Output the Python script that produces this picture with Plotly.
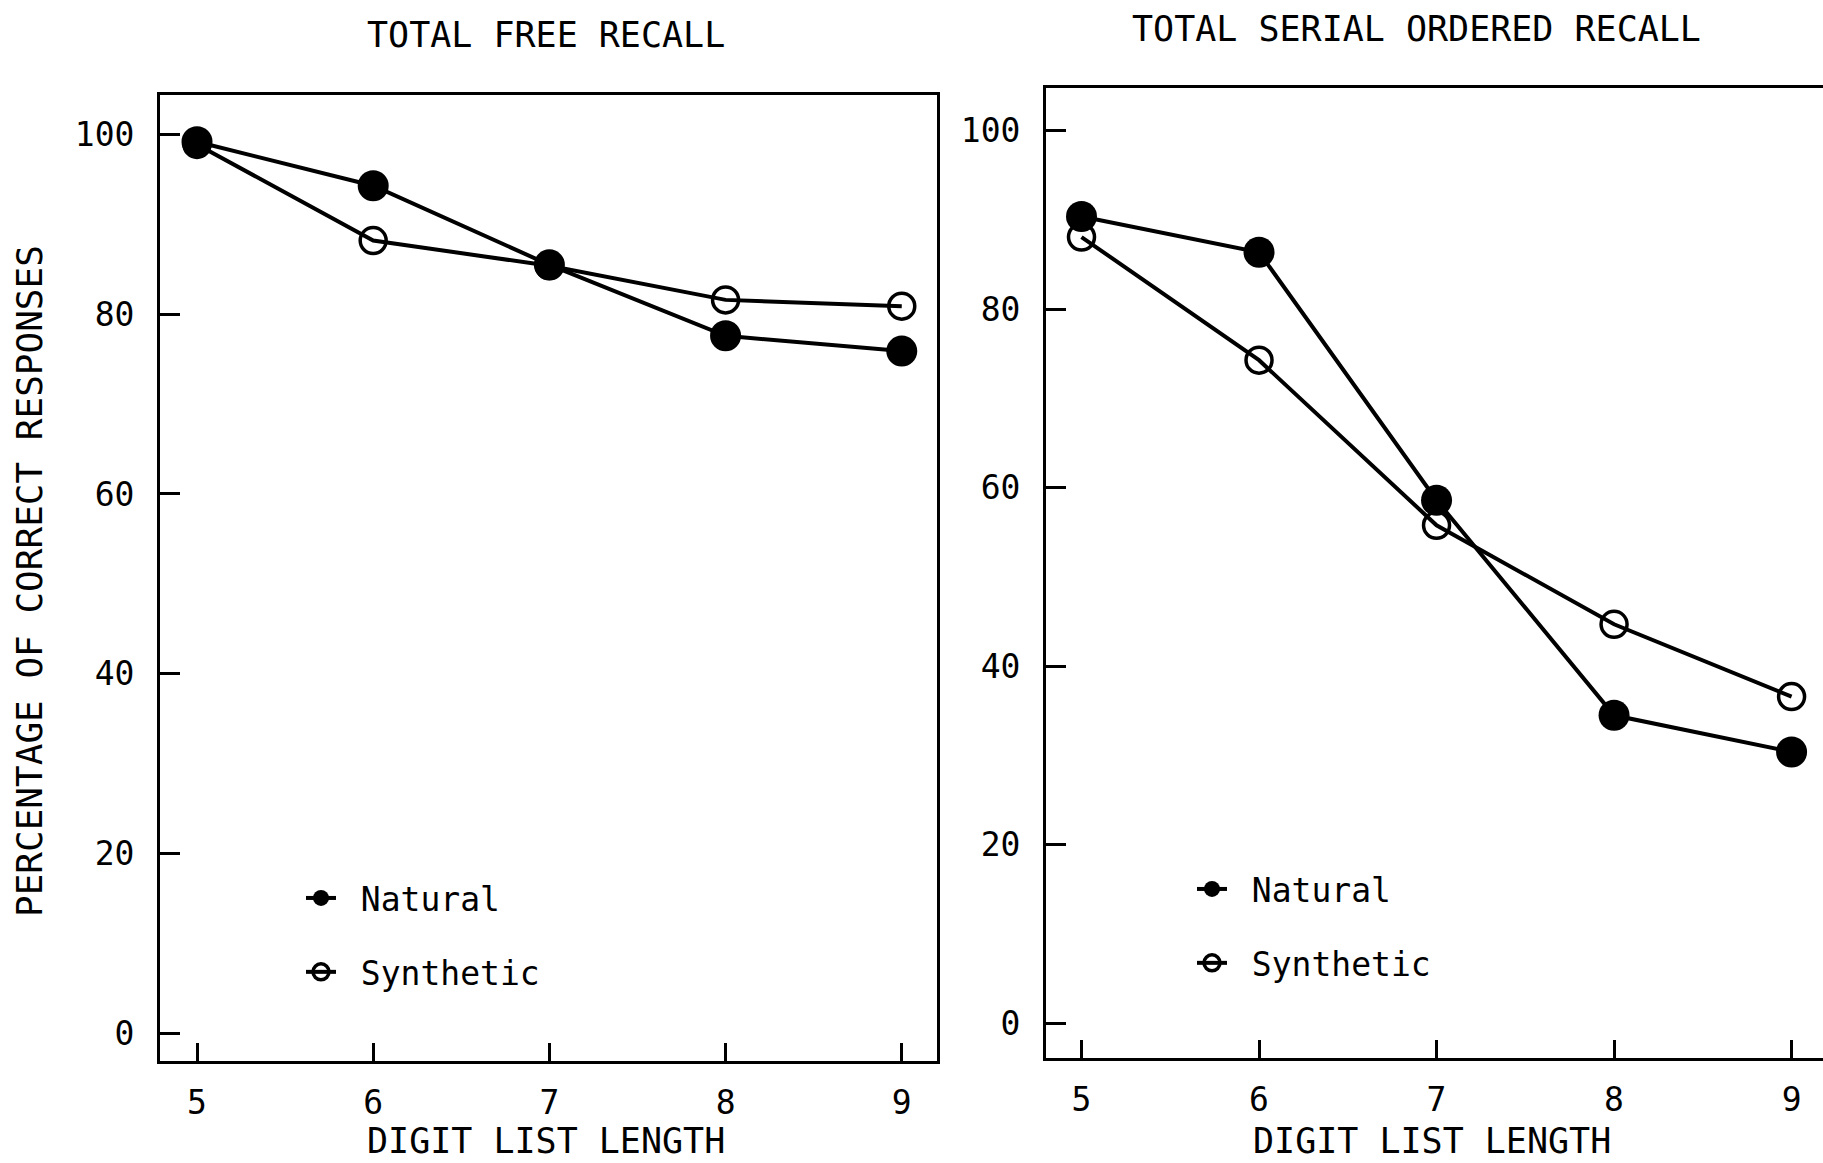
import plotly.graph_objects as go

# ---- data ----
list_length = [5, 6, 7, 8, 9]
free_natural = [99.2, 94.3, 85.5, 77.6, 75.9]
free_synthetic = [98.9, 88.2, 85.4, 81.6, 80.9]
serial_natural = [90.4, 86.4, 58.6, 34.5, 30.4]
serial_synthetic = [88.1, 74.3, 55.8, 44.7, 36.6]
y_ticks = [0, 20, 40, 60, 80, 100]
x_ticks = [5, 6, 7, 8, 9]
panel_titles = ["TOTAL FREE RECALL", "TOTAL SERIAL ORDERED RECALL"]
x_title = "DIGIT LIST LENGTH"
y_title = "PERCENTAGE OF CORRECT RESPONSES"

W, H = 1823, 1163
FONT = "DejaVu Sans Mono"
INK = "#000000"

fig = go.Figure()

def add_panel(xa, ya, nat, syn, legend):
    fig.add_trace(go.Scatter(
        x=list_length, y=syn, mode="lines+markers", name=" Synthetic",
        xaxis=xa, yaxis=ya, legend=legend, legendgroup=legend + "s", legendrank=2,
        line=dict(color=INK, width=4),
        marker=dict(symbol="circle-open", size=26, color=INK, line=dict(width=3.5, color=INK)),
    ))
    fig.add_trace(go.Scatter(
        x=list_length, y=nat, mode="lines+markers", name=" Natural",
        xaxis=xa, yaxis=ya, legend=legend, legendgroup=legend + "n", legendrank=1,
        line=dict(color=INK, width=4),
        marker=dict(symbol="circle", size=31, color=INK, line=dict(width=0)),
    ))

add_panel("x", "y", free_natural, free_synthetic, "legend")
add_panel("x2", "y2", serial_natural, serial_synthetic, "legend2")

tickfont = dict(family=FONT, size=33, color=INK)
axis_common = dict(showgrid=False, zeroline=False, showline=True, linecolor=INK, linewidth=3,
                   ticks="inside", tickcolor=INK, tickwidth=3, tickfont=tickfont)

legend_common = dict(font=dict(family=FONT, size=33, color=INK), bgcolor="rgba(0,0,0,0)",
                     traceorder="grouped", tracegroupgap=28, xanchor="left", yanchor="top",
                     itemsizing="trace")

fig.update_layout(
    width=W, height=H,
    margin=dict(l=0, r=0, t=0, b=0),
    paper_bgcolor="white", plot_bgcolor="white",
    showlegend=True,
    xaxis=dict(domain=[160 / W, 937 / W], range=[4.79, 9.2], tickvals=x_ticks, ticklen=18,
               mirror=True, anchor="y", ticklabelstandoff=10, **axis_common),
    yaxis=dict(domain=[1 - 1061 / H, 1 - 95 / H], range=[-3.1, 104.4], tickvals=y_ticks, ticklen=20,
               mirror=True, anchor="x", ticklabelstandoff=16, **axis_common),
    xaxis2=dict(domain=[1046 / W, 1.0], range=[4.80, 9.177], tickvals=x_ticks, ticklen=18,
                mirror=True, anchor="y2", ticklabelstandoff=10, **axis_common),
    yaxis2=dict(domain=[1 - 1058 / H, 1 - 88 / H], range=[-3.9, 104.8], tickvals=y_ticks, ticklen=20,
                mirror=False, anchor="x2", ticklabelstandoff=16, **axis_common),
    legend=dict(x=301 / W, y=1 - 870 / H, **legend_common),
    legend2=dict(x=1192 / W, y=1 - 861 / H, **legend_common),
)

title_font = dict(family=FONT, size=35, color=INK)
annotations = [
    dict(text=panel_titles[0], x=546 / W, y=1 - 35 / H, xref="paper", yref="paper",
         showarrow=False, font=title_font, xanchor="center", yanchor="middle"),
    dict(text=panel_titles[1], x=1416 / W, y=1 - 29 / H, xref="paper", yref="paper",
         showarrow=False, font=title_font, xanchor="center", yanchor="middle"),
    dict(text=x_title, x=546 / W, y=1 - 1141 / H, xref="paper", yref="paper",
         showarrow=False, font=title_font, xanchor="center", yanchor="middle"),
    dict(text=x_title, x=1432 / W, y=1 - 1141 / H, xref="paper", yref="paper",
         showarrow=False, font=title_font, xanchor="center", yanchor="middle"),
    dict(text=y_title, x=29 / W, y=1 - 581 / H, xref="paper", yref="paper", textangle=-90,
         showarrow=False, font=dict(family=FONT, size=36, color=INK),
         xanchor="center", yanchor="middle"),
]
fig.update_layout(annotations=annotations)

fig.write_html("out.html", config={"displayModeBar": False},
               post_script="document.body.style.margin='0';document.body.style.overflow='hidden';")
